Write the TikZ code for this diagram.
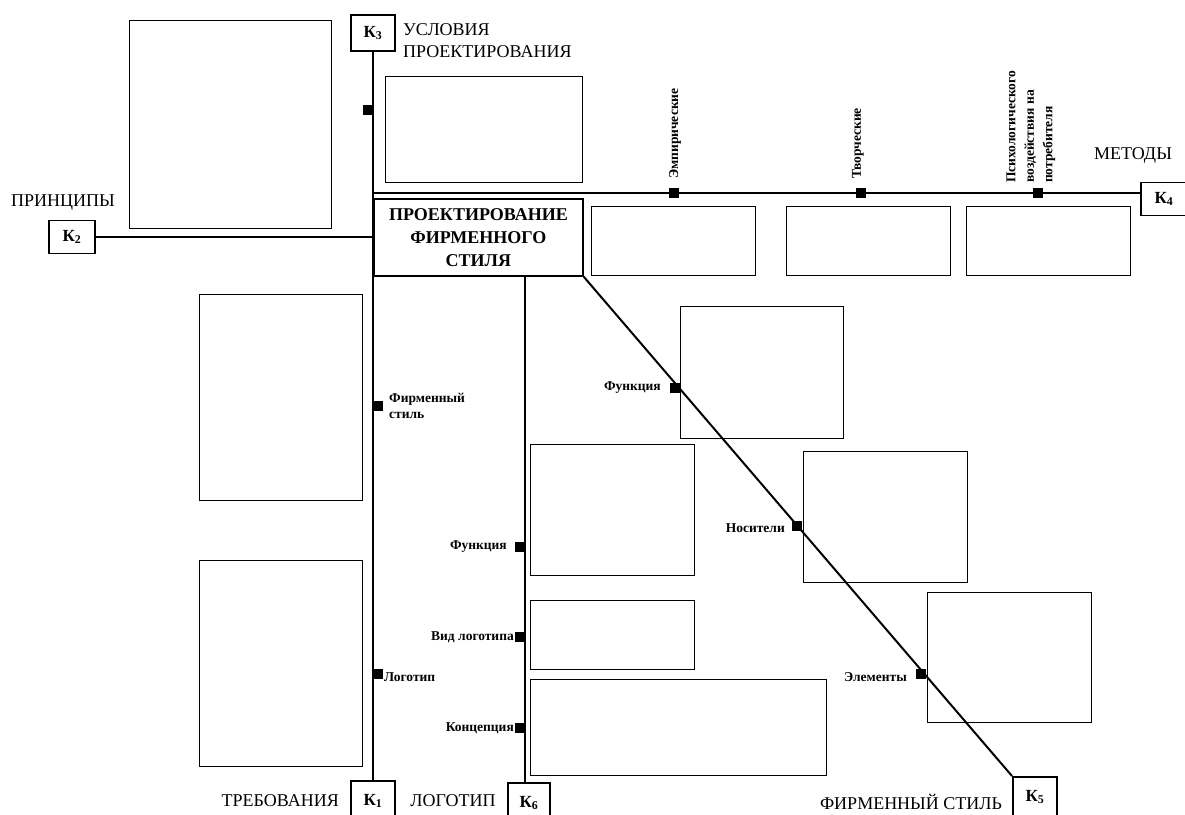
\documentclass[tikz,border=0pt]{standalone}
\usepackage{fontspec}
\setmainfont{Liberation Serif}
\begin{document}
\begin{tikzpicture}[x=1pt,y=-1pt,
  axis/.style={line width=2pt},
  cell/.style={draw,line width=0.9pt},
  kbox/.style={draw,line width=1.8pt,fill=white,minimum width=44pt,minimum height=36pt,inner sep=0pt,font=\fontsize{17}{17}\selectfont\bfseries},
  dot/.style={fill=black,minimum size=10pt,inner sep=0pt},
  lbl/.style={font=\fontsize{13.5}{16}\selectfont\bfseries,inner sep=1pt},
  rlbl/.style={font=\fontsize{13.5}{18.5}\selectfont\bfseries,rotate=90,anchor=west,inner sep=1pt,align=left},
  axcap/.style={font=\fontsize{18}{22}\selectfont,inner sep=0pt}]
\useasboundingbox (0,0) rectangle (1185,814);

% terminal boxes K1..K6
\node[kbox,anchor=north] (k3) at (373,14) {К\textsubscript{3}};
\node[kbox,anchor=north,minimum height=40pt] (k1) at (373,780) {К\textsubscript{1}};
\node[kbox,minimum width=46pt,minimum height=33pt] (k2) at (72,237) {К\textsubscript{2}};
\node[kbox,anchor=west,minimum width=46pt,minimum height=33pt] (k4) at (1140,199) {К\textsubscript{4}};
\node[kbox,anchor=north west,minimum height=40pt] (k5) at (1012,776) {К\textsubscript{5}};
\node[kbox,anchor=north,minimum width=42pt,minimum height=40pt] (k6) at (529,782) {К\textsubscript{6}};

% central box
\node[draw,line width=1.8pt,fill=white,minimum width=209pt,minimum height=77pt,anchor=north west,align=center,
  font=\fontsize{18}{23}\selectfont\bfseries,inner sep=0pt] (core) at (373,198)
  {ПРОЕКТИРОВАНИЕ\\ФИРМЕННОГО\\СТИЛЯ};

% axes
\coordinate (top3) at (373,193);
\coordinate (top2) at (373,237);
\coordinate (v6) at (525,275);
\draw[axis] (k3.south) -- (k1.north);
\draw[axis] (k2.east) -- (top2);
\draw[axis] (top3) -- (top3 -| k4.west);
\draw[axis] (v6) -- (v6 |- k6.north);
\draw[axis] (core.south east) -- (k5.north west);

% empty cells
\draw[cell] (129,20) rectangle (331,228);
\draw[cell] (385,76) rectangle (582,182);
\draw[cell] (591,206) rectangle (755,275);
\draw[cell] (786,206) rectangle (950,275);
\draw[cell] (966,206) rectangle (1130,275);
\draw[cell] (199,294) rectangle (362,500);
\draw[cell] (199,560) rectangle (362,766);
\draw[cell] (530,444) rectangle (694,575);
\draw[cell] (530,600) rectangle (694,669);
\draw[cell] (530,679) rectangle (826,775);
\draw[cell] (680,306) rectangle (843,438);
\draw[cell] (803,451) rectangle (967,582);
\draw[cell] (927,592) rectangle (1091,722);

% markers on the axes
\node[dot] (m0) at (368,110) {};
\node[dot] (e1) at (674,193) {};
\node[dot] (e2) at (861,193) {};
\node[dot] (e3) at (1038,193) {};
\node[dot] (p1) at (378,406) {};
\node[dot] (p2) at (378,674) {};
\node[dot] (l1) at (520,547) {};
\node[dot] (l2) at (520,637) {};
\node[dot] (l3) at (520,728) {};
\node[dot] (d1) at (675,388) {};
\node[dot] (d2) at (797,526) {};
\node[dot] (d3) at (921,674) {};

% method labels
\node[rlbl] at (675,180) {Эмпирические};
\node[rlbl] at (858,180) {Творческие};
\node[rlbl] at (1031,184) {Психологического\\воздействия на\\потребителя};

% marker labels
\node[lbl,anchor=west,align=left] at (388,406) {Фирменный\\стиль};
\node[lbl,anchor=west] at (383,677) {Логотип};
\node[lbl,anchor=east] at (508,547) {Функция};
\node[lbl,anchor=east] at (515,637) {Вид логотипа};
\node[lbl,anchor=east] at (515,728) {Концепция};
\node[lbl,anchor=east] at (662,388) {Функция};
\node[lbl,anchor=east] at (786,528) {Носители};
\node[lbl,anchor=east] at (908,677) {Элементы};

% axis captions
\node[axcap] at (63,203) {ПРИНЦИПЫ};
\node[axcap,anchor=west,align=left] at (403,41) {УСЛОВИЯ\\ПРОЕКТИРОВАНИЯ};
\node[axcap] at (1133,155) {МЕТОДЫ};
\node[axcap,anchor=east] at (339,801) {ТРЕБОВАНИЯ};
\node[axcap] at (453,801) {ЛОГОТИП};
\node[axcap] at (911,802) {ФИРМЕННЫЙ СТИЛЬ};
\end{tikzpicture}
\end{document}
